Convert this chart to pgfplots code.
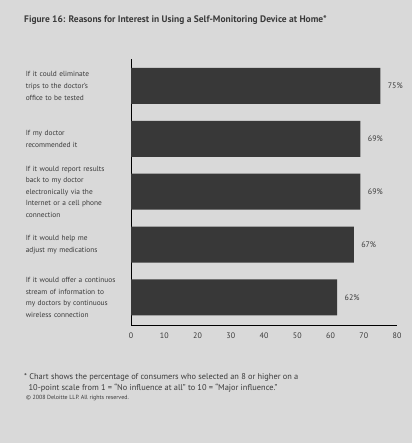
\documentclass[border=0pt]{standalone}
\usepackage{fontspec}
\setmainfont{PT Sans}
\usepackage{pgfplots}
\pgfplotsset{compat=1.18}
\definecolor{bg}{HTML}{D9D9D9}
\definecolor{bar}{HTML}{383838}
\definecolor{txt}{HTML}{3A3A3A}
\begin{document}
\begin{tikzpicture}[x=1bp,y=1bp]
\fill[bg] (0,0) rectangle (412,443);
\useasboundingbox (0,0) rectangle (412,443);
\node[anchor=west, inner sep=0pt, font=\fontsize{9.5}{11}\selectfont\bfseries, text=txt] at (24,423) {Figure 16: Reasons for Interest in Using a Self-Monitoring Device at Home*};
\begin{axis}[
  at={(131bp,118bp)}, anchor=south west,
  scale only axis, width=266bp, height=266bp,
  xbar, bar width=36bp,
  xmin=0, xmax=80, ymin=-0.52, ymax=4.51,
  xtick={0,10,...,80},
  ytick={0,1,2,3,4},
  yticklabels={{If it would offer a continuos\\stream of information to\\my doctors by continuous\\wireless connection},
               {If it would help me\\adjust my medications},
               {If it would report results\\back to my doctor\\electronically via the\\Internet or a cell phone\\connection},
               {If my doctor\\recommended it},
               {If it could eliminate\\trips to the doctor's\\office to be tested}},
  axis x line=none,
  axis y line=left,
  y axis line style={-, line width=0.8pt, black},
  hide x axis=false,
  major tick length=0pt,
  ytick style={draw=none},
  xtick style={draw=none},
  yticklabel style={text width=100bp, align=left, inner sep=0pt, xshift=-5bp,
    font=\fontsize{7.4}{11.6}\selectfont, text=txt},
  xticklabel style={font=\fontsize{8}{10}\selectfont, text=txt, yshift=-4bp},
  /pgf/number format/assume math mode=true,
  nodes near coords={\pgfmathprintnumber{\pgfplotspointmeta}\%},
  nodes near coords style={font=\fontsize{8}{10}\selectfont, text=txt, anchor=west, xshift=4bp},
  clip=false,
]
\addplot[fill=bar, draw=none] coordinates {(62,0) (67,1) (69,2) (69,3) (75,4)};
\end{axis}
\node[anchor=north west, inner sep=0pt, align=left, font=\fontsize{8.4}{11.5}\selectfont, text=txt] at (24,70) {* Chart shows the percentage of consumers who selected an 8 or higher on a\\\ \ 10-point scale from 1 = ``No influence at all'' to 10 = ``Major influence.''};
\node[anchor=west, inner sep=0pt, font=\fontsize{6}{8}\selectfont, text=txt] at (26,45) {\textcopyright\ 2008 Deloitte LLP. All rights reserved.};
\end{tikzpicture}
\end{document}
